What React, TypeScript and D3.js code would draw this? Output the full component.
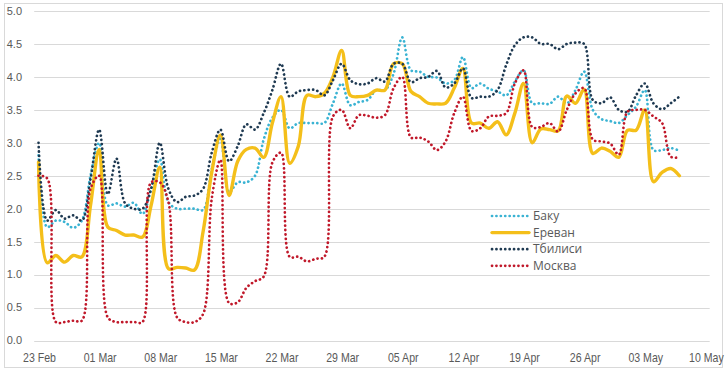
import * as d3 from "d3"

// daily values from 23 Feb
const startDate = new Date(2020, 1, 23)

const baku = [
  2.81, 1.72, 1.82, 1.8, 1.71, 1.82, 2.5, 3.0, 2.05, 2.08, 2.03, 2.09, 1.92, 2.3, 2.75, 2.1, 2.0, 2.0, 2.0, 1.98,
  2.6, 3.06, 2.25, 2.4, 2.4, 2.5, 3.05, 3.38, 3.5, 3.22, 3.3, 3.3, 3.3, 3.3, 3.6, 3.9, 3.57, 3.62, 3.65, 3.8,
  3.8, 4.05, 4.6, 4.1, 4.08, 4.0, 3.99, 3.9, 3.95, 4.3, 3.83, 3.9, 3.82, 3.78, 3.72, 3.93, 4.1, 3.6, 3.6, 3.59,
  3.7, 3.6, 3.8, 4.08, 3.5, 3.36, 3.33, 3.3, 3.42, 3.55, 3.8, 2.89, 2.89, 2.92, 2.88,
]

const yerevan = [
  2.71, 1.18, 1.29, 1.19, 1.29, 1.27, 2.05, 2.9, 1.72, 1.67, 1.6, 1.6, 1.57, 2.05, 2.63, 1.09, 1.11, 1.1, 1.07, 1.65,
  2.55, 3.12, 2.2, 2.72, 2.9, 2.92, 2.78, 3.3, 3.7, 2.69, 2.95, 3.72, 3.7, 3.75, 4.0, 4.4, 3.72, 3.7, 3.72, 3.8,
  3.8, 4.2, 4.2, 3.78, 3.7, 3.6, 3.59, 3.6, 3.83, 4.13, 3.3, 3.3, 3.22, 3.32, 3.12, 3.45, 3.9, 3.0, 3.21, 3.2,
  3.18, 3.71, 3.6, 3.81, 2.84, 2.92, 2.87, 2.78, 3.19, 3.19, 3.5, 2.41, 2.55, 2.61, 2.5,
]

const tbilisi = [
  3.0, 1.82, 1.98, 1.85, 1.9, 1.82, 2.45, 3.2, 2.22, 2.76, 2.08, 2.0, 2.0, 2.3, 3.0, 2.3, 2.1, 2.18, 2.2, 2.3,
  2.85, 3.2, 2.72, 2.95, 3.28, 3.2, 3.45, 3.8, 4.2, 3.7, 3.78, 3.8, 3.8, 3.72, 3.95, 4.2, 3.95, 3.89, 3.9, 3.98,
  3.93, 4.2, 4.2, 3.92, 3.98, 4.0, 4.09, 3.84, 3.9, 4.13, 3.68, 3.7, 3.7, 3.8, 4.18, 4.48, 4.6, 4.6, 4.5, 4.5,
  4.42, 4.5, 4.52, 4.5, 3.65, 3.6, 3.69, 3.5, 3.47, 3.72, 3.9, 3.6, 3.51, 3.6, 3.7,
]

const moscow = [
  2.5, 2.46, 0.28, 0.28, 0.3, 0.3, 2.3, 2.5, 0.35, 0.28, 0.28, 0.28, 0.28, 2.4, 2.4, 2.1, 0.35, 0.28, 0.28, 0.4,
  2.15, 2.74, 0.57, 0.58, 0.8, 0.9, 0.97, 2.7, 2.85, 1.27, 1.27, 1.2, 1.24, 1.27, 3.4, 3.5, 3.22, 3.42, 3.41, 3.38,
  3.42, 3.83, 4.0, 3.08, 3.08, 3.02, 2.89, 3.02, 3.45, 3.7, 3.18, 3.22, 3.4, 3.41, 3.45, 3.9, 4.1, 3.24, 3.24, 3.3,
  3.17, 3.5, 3.75, 3.83, 3.05, 3.02, 2.99, 2.82, 3.47, 3.5, 3.5, 3.4, 3.3, 2.79, 2.78,
]

const seriesNames = ["Баку", "Ереван", "Тбилиси", "Москва"]
const yTicks = [0, 0.5, 1, 1.5, 2, 2.5, 3, 3.5, 4, 4.5, 5]
const xTickDays = [0, 7, 14, 21, 28, 35, 42, 49, 56, 63, 70, 77]

const series = [
  { name: seriesNames[0], values: baku, color: "#3AB3D3", dotted: true },
  { name: seriesNames[1], values: yerevan, color: "#F4BF1A", dotted: false },
  { name: seriesNames[2], values: tbilisi, color: "#1F3A52", dotted: true },
  { name: seriesNames[3], values: moscow, color: "#C0182A", dotted: true },
]

const dateOf = (i: number) => d3.timeDay.offset(startDate, i)
const halfDay = 12 * 3600 * 1000

export default function App() {
  const width = 727
  const height = 374

  const x = d3
    .scaleTime()
    .domain([new Date(+dateOf(0) - halfDay), new Date(+dateOf(77) + halfDay)])
    .range([34.2, 709.7])
  const y = d3.scaleLinear().domain([0, 5]).range([340.5, 11])

  const fmt = d3.timeFormat("%d %b")

  // smoothed lines, centripetal spline keeps the flat stretches flat
  const line = d3
    .line<number>()
    .x((_, i) => x(dateOf(i)))
    .y((d) => y(d))
    .curve(d3.curveCatmullRom.alpha(0.5))

  const dotW = 2.7
  const solidW = 3.4

  return (
    <svg
      width={width}
      height={height}
      style={{ position: "absolute", left: 0, top: 0, background: "#fff" }}
    >
      <rect x={4.5} y={3.5} width={718} height={364} fill="#fff" stroke="#D9D9D9" />

      {/* gridlines + y labels */}
      {yTicks.map((t) => (
        <g key={t}>
          <line x1={34.2} x2={709.7} y1={Math.round(y(t)) + 0.5} y2={Math.round(y(t)) + 0.5} stroke="#D9D9D9" />
          <text
            x={22}
            y={y(t)}
            dy="0.35em"
            textAnchor="end"
            fontFamily="'Liberation Sans', Arial, sans-serif"
            fontSize={11}
            fill="#595959"
          >
            {d3.format(".1f")(t)}
          </text>
        </g>
      ))}

      {/* x labels */}
      {xTickDays.map((d) => (
        <text
          key={d}
          transform={`translate(${x(dateOf(d)) + 1},361.5) scale(0.84,1)`}
          textAnchor="middle"
          fontFamily="'Liberation Sans', Arial, sans-serif"
          fontSize={12.6}
          fill="#595959"
        >
          {fmt(dateOf(d))}
        </text>
      ))}

      {/* series */}
      {series.map((s) => (
        <path
          key={s.name}
          d={line(s.values) || ""}
          fill="none"
          stroke={s.color}
          strokeWidth={s.dotted ? dotW : solidW}
          strokeLinecap="round"
          strokeLinejoin="round"
          strokeDasharray={s.dotted ? "0.1 4.3" : undefined}
        />
      ))}

      {/* legend */}
      {series.map((s, i) => {
        const ly = 216 + i * 16.6
        return (
          <g key={s.name}>
            <line
              x1={492}
              x2={529}
              y1={ly}
              y2={ly}
              stroke={s.color}
              strokeWidth={s.dotted ? dotW : solidW}
              strokeLinecap="round"
              strokeDasharray={s.dotted ? "0.1 4.3" : undefined}
            />
            <text
              x={533}
              y={ly}
              dy="0.35em"
              fontFamily="'Open Sans', 'Noto Sans', sans-serif"
              fontSize={12}
              fill="#595959"
            >
              {s.name}
            </text>
          </g>
        )
      })}
    </svg>
  )
}
